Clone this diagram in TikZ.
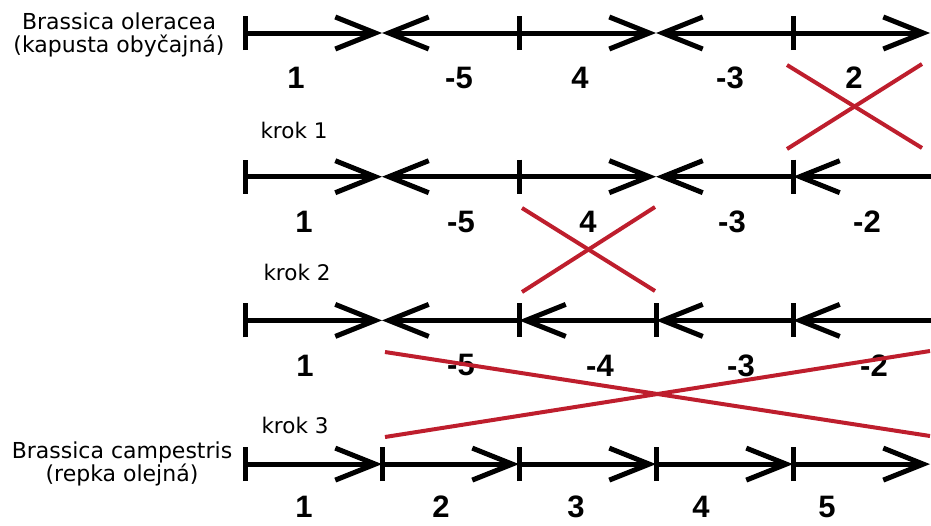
\documentclass[tikz,border=0pt]{standalone}
\usepackage{fontspec}
\setmainfont{DejaVu Sans}
\newfontfamily\numfont{Liberation Sans}
\usepackage{tikz}
\usetikzlibrary{arrows.meta,positioning}

\definecolor{crossred}{RGB}{190,30,45}

\tikzset{
  >={Straight Barb[length=40pt,width=32pt]},
  segstart/.tip={Bar[width=34pt]},
  seg/.style={line width=5pt,arrows={segstart->},shorten <=-2.5pt},
  val/.style={inner sep=0pt,font=\numfont\bfseries\fontsize{31}{31}\selectfont},
  species/.style={align=center,font=\fontsize{22}{23}\selectfont},
  krok/.style={anchor=base west,font=\fontsize{21.5}{24}\selectfont},
  cut/.style={line width=4pt,crossred}
}

\begin{document}
\begin{tikzpicture}[x=1pt,y=-1pt]
% Grid of the gene blocks
\pgfmathsetmacro{\xs}{245}   % left end of every row
\pgfmathsetmacro{\dx}{137}   % block length
\pgfmathsetmacro{\ys}{33}    % first row
\pgfmathsetmacro{\dy}{143.7} % row distance
\pgfmathsetmacro{\lo}{45}    % block numbers below the row

\useasboundingbox (0,0) rectangle (931,525);

% Brassica oleracea
\coordinate (a0) at ({\xs},{\ys});
\coordinate (a1) at ({\xs+\dx},{\ys});
\coordinate (a2) at ({\xs+2*\dx},{\ys});
\coordinate (a3) at ({\xs+3*\dx},{\ys});
\coordinate (a4) at ({\xs+4*\dx},{\ys});
\coordinate (a5) at ({\xs+5*\dx},{\ys});
\draw[seg] (a0) -- (a1);
\draw[seg] (a2) -- (a1);
\draw[seg] (a2) -- (a3);
\draw[seg] (a4) -- (a3);
\draw[seg] (a4) -- (a5);
\node[species] (ole) at (119,35) {Brassica oleracea\\(kapusta obyčajná)};
\node[val] (a1v) at (296,{\ys+\lo}) {1};
\node[val] (a2v) at (459,{\ys+\lo}) {-5};
\node[val] (a3v) at (580,{\ys+\lo}) {4};
\node[val] (a4v) at (730,{\ys+\lo}) {-3};
\node[val] (a5v) at (854,{\ys+\lo}) {2};

% krok 1
\coordinate (b0) at ({\xs},{\ys+\dy});
\coordinate (b1) at ({\xs+\dx},{\ys+\dy});
\coordinate (b2) at ({\xs+2*\dx},{\ys+\dy});
\coordinate (b3) at ({\xs+3*\dx},{\ys+\dy});
\coordinate (b4) at ({\xs+4*\dx},{\ys+\dy});
\coordinate (b5) at ({\xs+5*\dx+8},{\ys+\dy});
\draw[seg] (b0) -- (b1);
\draw[seg] (b2) -- (b1);
\draw[seg] (b2) -- (b3);
\draw[seg] (b4) -- (b3);
\draw[seg] (b5) -- (b4);
\node[krok] (k1) at (257,138) {krok 1};
\node[val] (b1v) at (304,{\ys+\dy+\lo}) {1};
\node[val] (b2v) at (461,{\ys+\dy+\lo}) {-5};
\node[val] (b3v) at (588,{\ys+\dy+\lo}) {4};
\node[val] (b4v) at (732,{\ys+\dy+\lo}) {-3};
\node[val] (b5v) at (867,{\ys+\dy+\lo}) {-2};

% krok 2
\coordinate (c0) at ({\xs},{\ys+2*\dy});
\coordinate (c1) at ({\xs+\dx},{\ys+2*\dy});
\coordinate (c2) at ({\xs+2*\dx},{\ys+2*\dy});
\coordinate (c3) at ({\xs+3*\dx},{\ys+2*\dy});
\coordinate (c4) at ({\xs+4*\dx},{\ys+2*\dy});
\coordinate (c5) at ({\xs+5*\dx+8},{\ys+2*\dy});
\draw[seg] (c0) -- (c1);
\draw[seg] (c2) -- (c1);
\draw[seg] (c3) -- (c2);
\draw[seg] (c4) -- (c3);
\draw[seg] (c5) -- (c4);
\node[krok] (k2) at (260,280) {krok 2};
\node[val] (c1v) at (305,{\ys+2*\dy+\lo}) {1};
\node[val] (c2v) at (461,{\ys+2*\dy+\lo}) {-5};
\node[val] (c3v) at (600,{\ys+2*\dy+\lo}) {-4};
\node[val] (c4v) at (741,{\ys+2*\dy+\lo}) {-3};
\node[val] (c5v) at (874,{\ys+2*\dy+\lo}) {-2};

% Brassica campestris, krok 3
\coordinate (d0) at ({\xs},{\ys+3*\dy});
\coordinate (d1) at ({\xs+\dx},{\ys+3*\dy});
\coordinate (d2) at ({\xs+2*\dx},{\ys+3*\dy});
\coordinate (d3) at ({\xs+3*\dx},{\ys+3*\dy});
\coordinate (d4) at ({\xs+4*\dx},{\ys+3*\dy});
\coordinate (d5) at ({\xs+5*\dx},{\ys+3*\dy});
\draw[seg] (d0) -- (d1);
\draw[seg] (d1) -- (d2);
\draw[seg] (d2) -- (d3);
\draw[seg] (d3) -- (d4);
\draw[seg] (d4) -- (d5);
\node[krok] (k3) at (258,433) {krok 3};
\node[species] (cam) at (122,464) {Brassica campestris\\(repka olejná)};
\node[val] (d1v) at (304,{\ys+3*\dy+\lo-2}) {1};
\node[val] (d2v) at (441,{\ys+3*\dy+\lo-2}) {2};
\node[val] (d3v) at (576,{\ys+3*\dy+\lo-2}) {3};
\node[val] (d4v) at (701,{\ys+3*\dy+\lo-2}) {4};
\node[val] (d5v) at (827,{\ys+3*\dy+\lo-2}) {5};

% Inverted blocks crossed out
\draw[cut] (787,65) -- (922,148);
\draw[cut] (787,149) -- (922,64);
\draw[cut] (522,208) -- (655,291);
\draw[cut] (522,292) -- (655,207);
\draw[cut] (385,352) -- (930,436);
\draw[cut] (385,437) -- (930,351);
\end{tikzpicture}
\end{document}
